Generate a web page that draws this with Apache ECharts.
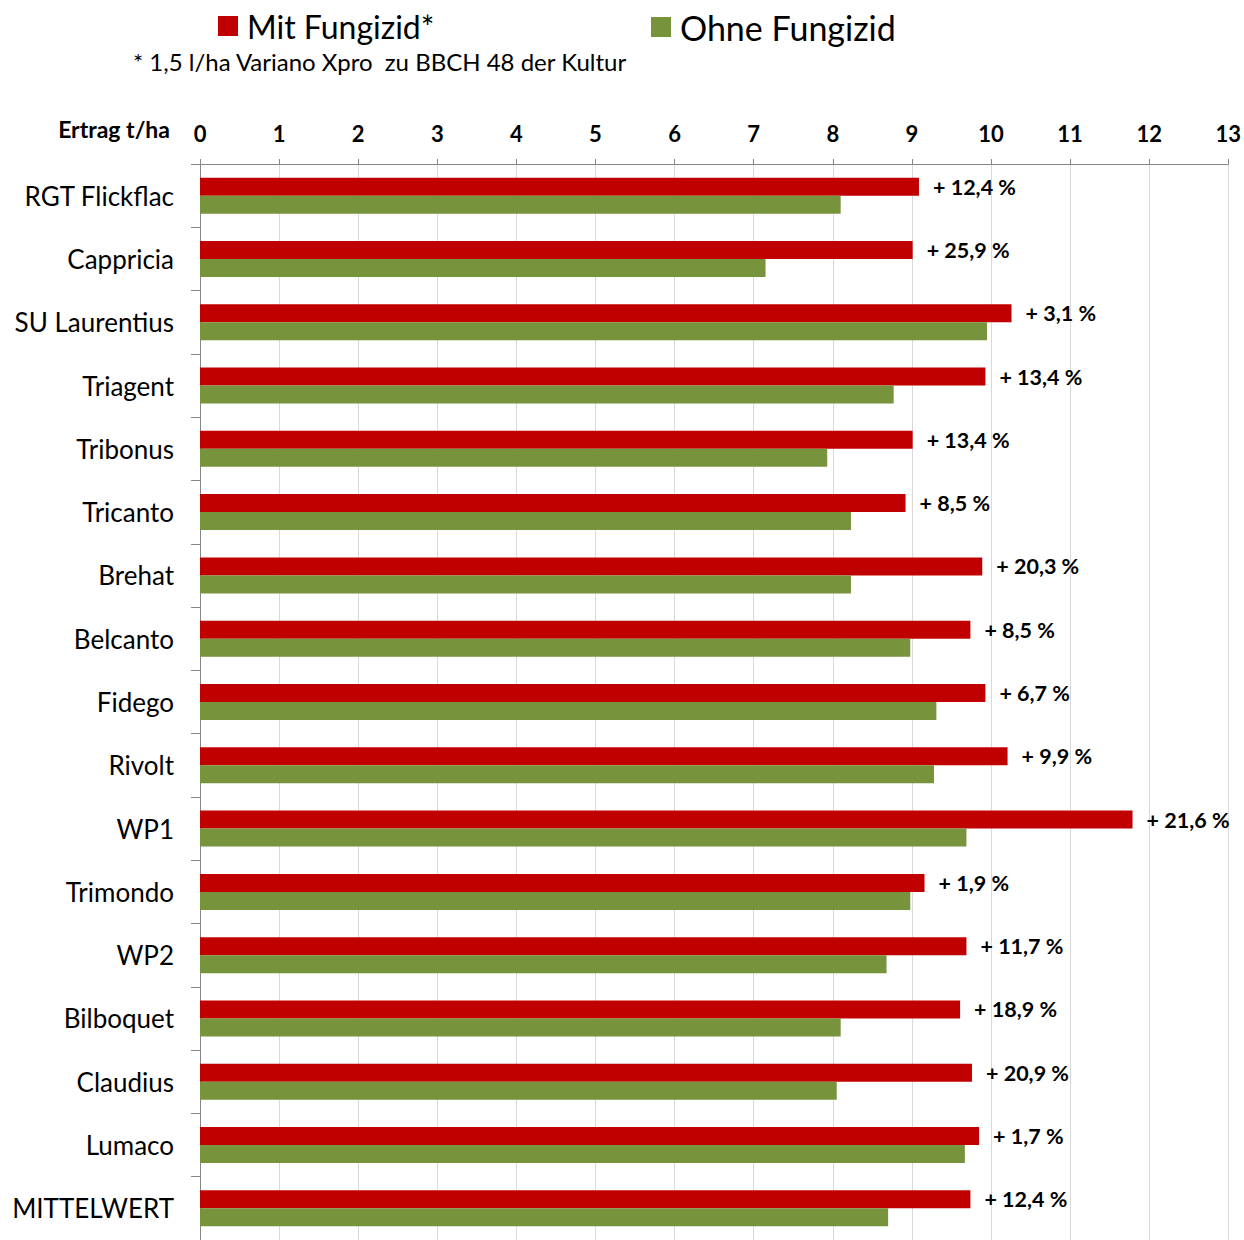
<!DOCTYPE html>
<html>
<head>
<meta charset="utf-8">
<script src="https://cdn.jsdelivr.net/npm/echarts@6/dist/echarts.min.js"></script>
<style>
html,body{margin:0;padding:0;background:#fff;}
#chart{width:1244px;height:1240px;}
</style>
</head>
<body>
<div id="chart"></div>
<script>
// Sorten (von oben nach unten)
var sorten = ['RGT Flickflac','Cappricia','SU Laurentius','Triagent','Tribonus','Tricanto','Brehat','Belcanto','Fidego','Rivolt','WP1','Trimondo','WP2','Bilboquet','Claudius','Lumaco','MITTELWERT'];
// Ertrag t/ha
var mitFungizid = [9.09,9.01,10.26,9.93,9.01,8.92,9.89,9.74,9.93,10.21,11.79,9.16,9.69,9.61,9.76,9.85,9.74];
var ohneFungizid = [8.10,7.15,9.95,8.77,7.93,8.23,8.23,8.98,9.31,9.28,9.69,8.98,8.68,8.10,8.05,9.67,8.70];
// Mehrertrag in %
var mehrertrag = ['+ 12,4 %','+ 25,9 %','+ 3,1 %','+ 13,4 %','+ 13,4 %','+ 8,5 %','+ 20,3 %','+ 8,5 %','+ 6,7 %','+ 9,9 %','+ 21,6 %','+ 1,9 %','+ 11,7 %','+ 18,9 %','+ 20,9 %','+ 1,7 %','+ 12,4 %'];
var xTicks = [0,13,1]; // min, max, interval

var font = 'Lato';
var myChart = echarts.init(document.getElementById('chart'), null, {renderer:'svg'});

var option = {
    backgroundColor:'#fff',
    animation:false,
    textStyle:{fontFamily:font},
    legend:[{
        left:218, top:10, padding:0,
        itemWidth:20, itemHeight:20,
        icon:'rect',
        data:['Mit Fungizid*'],
        textStyle:{fontSize:32, color:'#000', fontFamily:font, padding:[0,0,0,4]}
    },{
        left:651, top:10, padding:0,
        itemWidth:20, itemHeight:20,
        icon:'rect',
        data:['Ohne Fungizid'],
        textStyle:{fontSize:34, color:'#000', fontFamily:font, padding:[0,0,0,4]}
    }],
    graphic:[{
        type:'text', left:133, top:49,
        style:{text:'* 1,5 l/ha Variano Xpro  zu BBCH 48 der Kultur', fontSize:24, fontFamily:font, fill:'#000'}
    },{
        type:'text', right:1244-170, top:117,
        style:{text:'Ertrag t/ha', fontSize:23, fontWeight:'bold', fontFamily:font, fill:'#000'}
    }],
    grid:{left:200, top:164, width:1030, height:1081},
    xAxis:{
        type:'value',
        position:'top',
        min:xTicks[0], max:xTicks[1], interval:xTicks[2],
        axisLine:{show:true, lineStyle:{color:'#868686'}},
        axisTick:{show:true, length:5, lineStyle:{color:'#868686'}},
        axisLabel:{fontSize:22, fontWeight:'bold', color:'#000', margin:20, fontFamily:font},
        splitLine:{show:true, lineStyle:{color:'#D9D9D9'}}
    },
    yAxis:{
        type:'category',
        inverse:true,
        data:sorten,
        axisLine:{show:true, lineStyle:{color:'#868686'}},
        axisTick:{show:true, length:9, lineStyle:{color:'#868686'}},
        axisLabel:{fontSize:26, color:'#000', margin:26, fontFamily:font}
    },
    series:[{
        name:'Mit Fungizid*',
        type:'bar',
        data:mitFungizid,
        barWidth:18,
        barGap:'0%',
        itemStyle:{color:'#C00000'},
        label:{
            show:true, position:'right', distance:14,
            fontSize:21.5, fontWeight:'bold', color:'#000', fontFamily:font,
            formatter:function(p){return mehrertrag[p.dataIndex];}
        }
    },{
        name:'Ohne Fungizid',
        type:'bar',
        data:ohneFungizid,
        barWidth:18,
        barGap:'0%',
        itemStyle:{color:'#77933C'}
    }]
};
myChart.setOption(option);
</script>
</body>
</html>
